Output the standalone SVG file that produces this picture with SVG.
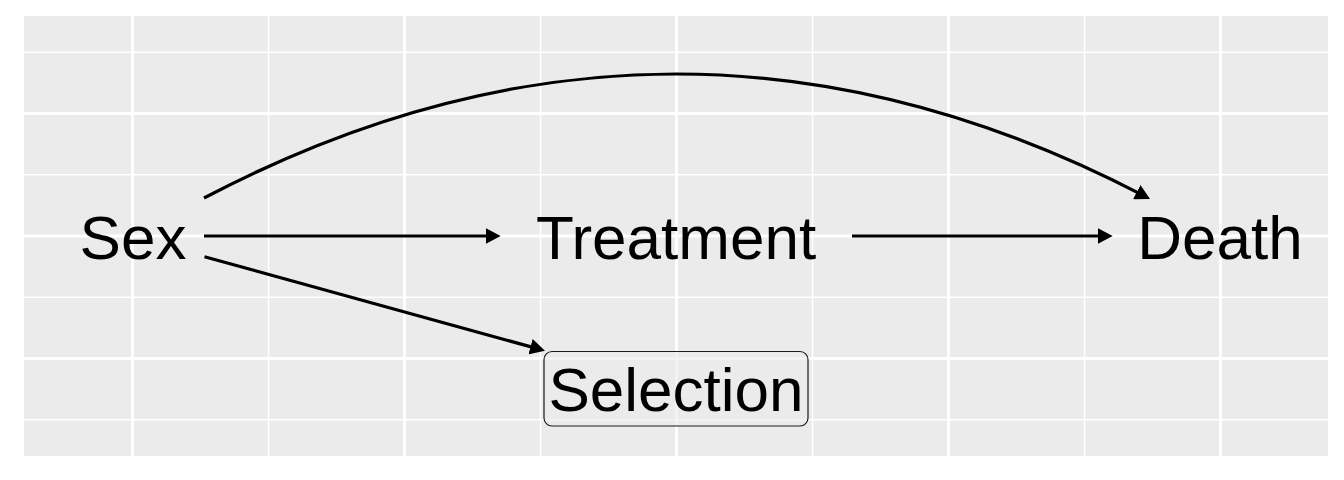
<svg xmlns="http://www.w3.org/2000/svg" width="1344" height="480" viewBox="0 0 1344 480">
<style>
.major{stroke:#FFFFFF;stroke-width:2.8;fill:none}
.minor{stroke:#FFFFFF;stroke-width:1.4;fill:none}
.edge{stroke:#000000;stroke-width:3.2;fill:none;marker-end:url(#arrow)}
.lbl{font-family:"Liberation Sans",Arial,Helvetica,sans-serif;font-size:62px;fill:#000000;text-anchor:middle}
</style>
<defs>
<marker id="arrow" viewBox="0 0 15 16" refX="9" refY="8" markerWidth="15" markerHeight="16" markerUnits="userSpaceOnUse" orient="auto">
<path d="M0,0 L15,8 L0,16 Z" fill="#000000"/>
</marker>
</defs>
<rect x="0" y="0" width="1344" height="480" fill="#FFFFFF"/>
<g id="panel">
<rect x="24" y="16" width="1304" height="440" fill="#EBEBEB"/>
<g class="minor">
<line x1="24" y1="52.25" x2="1328" y2="52.25"/>
<line x1="24" y1="174.75" x2="1328" y2="174.75"/>
<line x1="24" y1="297.25" x2="1328" y2="297.25"/>
<line x1="24" y1="419.75" x2="1328" y2="419.75"/>
<line x1="268.5" y1="16" x2="268.5" y2="456"/>
<line x1="540.5" y1="16" x2="540.5" y2="456"/>
<line x1="812.5" y1="16" x2="812.5" y2="456"/>
<line x1="1084.5" y1="16" x2="1084.5" y2="456"/>
</g>
<g class="major">
<line x1="24" y1="113.5" x2="1328" y2="113.5"/>
<line x1="24" y1="236" x2="1328" y2="236"/>
<line x1="24" y1="358.5" x2="1328" y2="358.5"/>
<line x1="132.5" y1="16" x2="132.5" y2="456"/>
<line x1="404.5" y1="16" x2="404.5" y2="456"/>
<line x1="676.5" y1="16" x2="676.5" y2="456"/>
<line x1="948.5" y1="16" x2="948.5" y2="456"/>
<line x1="1220.5" y1="16" x2="1220.5" y2="456"/>
</g>
</g>
<g id="connectors">
<path class="edge" d="M204,198 Q674.4,-49.1 1144.7,196.2"/>
<path class="edge" d="M204,236 L494.7,236"/>
<path class="edge" d="M852,236 L1106.7,236"/>
<path class="edge" d="M204.5,256.7 L539.2,349.1"/>
</g>
<g id="node-sex">
<text class="lbl" x="133" y="258.5">Sex</text>
</g>
<g id="node-treatment">
<text class="lbl" x="676" y="258.5">Treatment</text>
</g>
<g id="node-death">
<text class="lbl" x="1220" y="258.5">Death</text>
</g>
<g id="node-selection">
<rect x="544" y="351.5" width="264" height="74.5" rx="8" ry="8" fill="#EBEBEB" fill-opacity="0.6" stroke="#1A1A1A" stroke-width="1.2"/>
<text class="lbl" x="676" y="410.7">Selection</text>
</g>
</svg>
